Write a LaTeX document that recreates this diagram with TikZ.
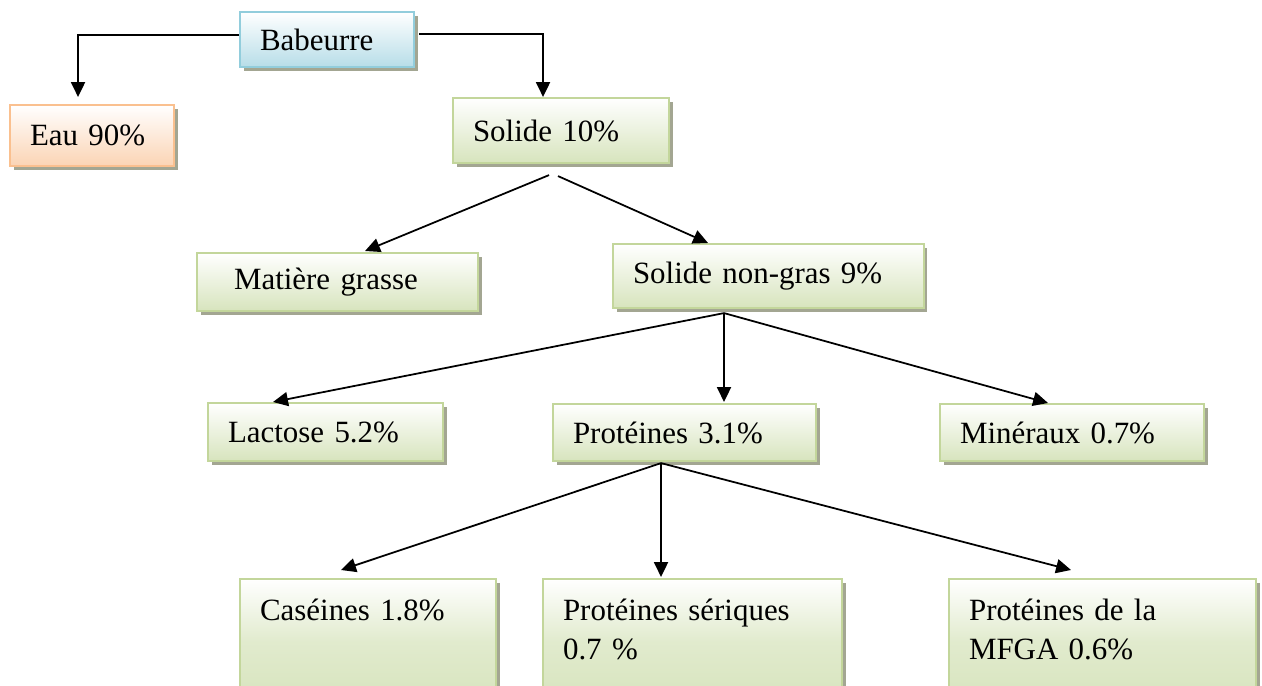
\documentclass[tikz,border=0pt]{standalone}
\usepackage{fontspec}
\setmainfont{Liberation Serif}
\usetikzlibrary{shadows,arrows.meta}
\definecolor{grnfill}{HTML}{D7E4BD}
\definecolor{grnline}{HTML}{C3D69B}
\definecolor{bluefill}{HTML}{B7DDE8}
\definecolor{blueline}{HTML}{92CDDC}
\definecolor{orgfill}{HTML}{FBD4B4}
\definecolor{orgline}{HTML}{FAC08F}
\definecolor{shade}{HTML}{A3A692}
\begin{document}
\begin{tikzpicture}[x=0.02cm,y=-0.02cm,
    box/.style={draw=grnline,line width=1.2pt,top color=white,bottom color=grnfill,
      drop shadow={shadow xshift=0.07cm,shadow yshift=-0.07cm,fill=shade,opacity=1},
      anchor=north west,align=left,inner xsep=0.4cm,inner ysep=0pt,
      font=\fontsize{17.6}{22.7}\selectfont},
    lowbox/.style={box,middle color=grnfill!75,text depth=1.3cm,inner ysep=0.39cm},
    conn/.style={line width=1pt,-{Triangle[length=8.5pt,width=8pt]}}]
    \useasboundingbox (0,0) rectangle (1262,686);
    \clip (0,0) rectangle (1262,686);
    %% Top level
    \node[box,draw=blueline,bottom color=bluefill,text width=2.68cm,minimum height=1.10cm] (bab) at (239,11) {Babeurre};
    \node[box,draw=orgline,bottom color=orgfill,text width=2.48cm,minimum height=1.22cm] (eau) at (9,104) {Eau 90\%};
    \node[box,text width=3.52cm,minimum height=1.30cm] (sol) at (452,97) {Solide 10\%};
    %% Solids
    \node[box,text width=4.82cm,minimum height=1.16cm] (mg) at (196,252) {\hspace*{0.34cm}Matière grasse};
    \node[box,text width=5.42cm,minimum height=1.28cm] (sng) at (612,243) {Solide non-gras 9\%};
    %% Non-fat solids
    \node[box,text width=3.90cm,minimum height=1.16cm] (lac) at (207,402) {Lactose 5.2\%};
    \node[box,text width=4.46cm,minimum height=1.14cm] (pro) at (552,403) {Protéines 3.1\%};
    \node[box,text width=4.48cm,minimum height=1.14cm] (min) at (939,403) {Minéraux 0.7\%};
    %% Proteins
    \node[lowbox,text width=4.32cm] (cas) at (239,578) {Caséines 1.8\%};
    \node[lowbox,text width=5.18cm] (ser) at (542,578) {Protéines sériques\\0.7 \%};
    \node[lowbox,text width=5.34cm] (mfga) at (948,578) {Protéines de la\\MFGA 0.6\%};
    %% Connectors
    \draw[conn] ([yshift=0.09cm]bab.west) -| ([xshift=-0.28cm,yshift=0.14cm]eau.north);
    \draw[conn] ([xshift=0.08cm,yshift=0.11cm]bab.east) -| ([xshift=-0.36cm]sol.north);
    \draw[conn] ([xshift=-0.24cm,yshift=-0.22cm]sol.south) -- ([xshift=0.55cm,yshift=0.02cm]mg.north);
    \draw[conn] ([xshift=-0.06cm,yshift=-0.24cm]sol.south) -- ([xshift=-1.21cm]sng.north);
    \draw[conn] ([xshift=-0.89cm,yshift=-0.08cm]sng.south) -- ([xshift=-1.05cm]lac.north);
    \draw[conn] ([xshift=-0.89cm,yshift=-0.08cm]sng.south) -- ([xshift=0.79cm,yshift=0.02cm]pro.north);
    \draw[conn] ([xshift=-0.89cm,yshift=-0.08cm]sng.south) -- ([xshift=-0.48cm]min.north);
    \draw[conn] ([xshift=-0.47cm,yshift=-0.02cm]pro.south) -- ([xshift=-0.54cm,yshift=0.16cm]cas.north);
    \draw[conn] ([xshift=-0.47cm,yshift=-0.02cm]pro.south) -- ([xshift=-0.63cm,yshift=0.02cm]ser.north);
    \draw[conn] ([xshift=-0.47cm,yshift=-0.02cm]pro.south) -- ([xshift=-0.63cm,yshift=0.16cm]mfga.north);
\end{tikzpicture}
\end{document}
